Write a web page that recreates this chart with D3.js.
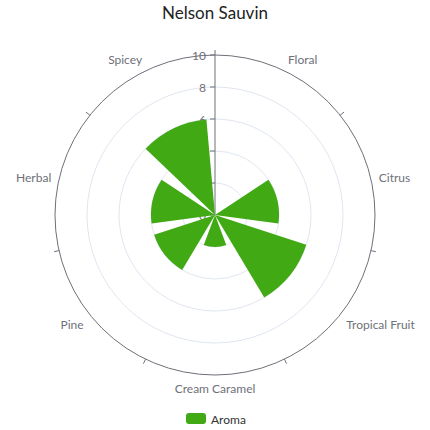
<!DOCTYPE html>
<html lang="en">
<head>
    <meta charset="UTF-8">
    <title>Nelson Sauvin</title>
    <script src="https://d3js.org/d3.v7.min.js"></script>
    <style>
        body { margin: 0; background: #fff; font-family: Lato, "Liberation Sans", sans-serif; }
    </style>
</head>
<body>
    <div id="chart"></div>
    <script>
        // chart data
        const categories = ["Floral", "Citrus", "Tropical Fruit", "Cream Caramel", "Pine", "Herbal", "Spicey"];
        const aroma = [0, 4, 6, 2, 4, 4, 6];
        const radiusTicks = [0, 2, 4, 6, 8, 10];
        const seriesName = "Aroma";
        const chartTitle = "Nelson Sauvin";

        const W = 430, H = 430;
        const cx = 215, cy = 215, R = 160;
        const axisColor = "#6e7079";
        const splitColor = "#e0e6f1";
        const barColor = "#40a914";

        const svg = d3.select("#chart").append("svg")
            .attr("width", W).attr("height", H);

        // title
        svg.append("text")
            .attr("x", W / 2).attr("y", 19)
            .attr("text-anchor", "middle")
            .style("font-size", "17px")
            .style("fill", "#222")
            .text(chartTitle);

        const g = svg.append("g").attr("transform", `translate(${cx},${cy})`);

        // scales
        const angle = d3.scaleBand().domain(categories).range([0, 2 * Math.PI]).paddingInner(0.2).paddingOuter(0.1);
        const angleFull = d3.scaleBand().domain(categories).range([0, 2 * Math.PI]);
        const r = d3.scaleLinear().domain([0, 10]).range([0, R]);

        // split circles
        g.selectAll(".split")
            .data(radiusTicks.filter(d => d > 0 && d < 10))
            .enter().append("circle")
            .attr("r", d => r(d))
            .attr("fill", "none")
            .attr("stroke", splitColor);

        // angle axis line
        g.append("circle").attr("r", r(10)).attr("fill", "none").attr("stroke", axisColor);

        // angle axis ticks at category boundaries
        g.selectAll(".atick")
            .data(categories)
            .enter().append("line")
            .attr("x1", d => Math.sin(angleFull(d)) * R)
            .attr("y1", d => -Math.cos(angleFull(d)) * R)
            .attr("x2", d => Math.sin(angleFull(d)) * (R + 5))
            .attr("y2", d => -Math.cos(angleFull(d)) * (R + 5))
            .attr("stroke", axisColor);

        // angle axis labels
        g.selectAll(".alabel")
            .data(categories)
            .enter().append("text")
            .each(function(d) {
                const a = angleFull(d) + angleFull.bandwidth() / 2;
                const lr = R + 8;
                const x = Math.sin(a) * lr, y = -Math.cos(a) * lr;
                const anchor = Math.abs(x) / lr < 0.3 ? "middle" : (x > 0 ? "start" : "end");
                const base = Math.abs(y) / lr < 0.3 ? "central" : (y > 0 ? "hanging" : "auto");
                d3.select(this)
                    .attr("x", x).attr("y", y)
                    .attr("text-anchor", anchor)
                    .attr("dominant-baseline", base);
            })
            .style("font-size", "12px")
            .style("fill", axisColor)
            .text(d => d);

        // radius axis
        g.append("line")
            .attr("x1", 0).attr("y1", 0)
            .attr("x2", 0).attr("y2", -r(10))
            .attr("stroke", axisColor);

        g.selectAll(".rtick")
            .data(radiusTicks)
            .enter().append("line")
            .attr("x1", -5).attr("x2", 0)
            .attr("y1", d => -r(d)).attr("y2", d => -r(d))
            .attr("stroke", axisColor);

        g.selectAll(".rlabel")
            .data(radiusTicks)
            .enter().append("text")
            .attr("x", -9)
            .attr("y", d => -r(d))
            .attr("text-anchor", "end")
            .attr("dominant-baseline", "central")
            .style("font-size", "12px")
            .style("fill", axisColor)
            .text(d => d);

        // bars
        const arc = d3.arc();
        g.selectAll(".bar")
            .data(categories.map((c, i) => ({ c, v: aroma[i] })))
            .enter().append("path")
            .attr("d", d => arc({
                innerRadius: 0,
                outerRadius: r(d.v),
                startAngle: angle(d.c),
                endAngle: angle(d.c) + angle.bandwidth()
            }))
            .attr("fill", barColor);

        // legend
        const lg = svg.append("g").attr("transform", "translate(186,413)");
        lg.append("rect").attr("width", 20).attr("height", 11).attr("rx", 3).attr("fill", barColor);
        lg.append("text")
            .attr("x", 25).attr("y", 6)
            .attr("dominant-baseline", "central")
            .style("font-size", "12px")
            .style("fill", "#333")
            .text(seriesName);
    </script>
</body>
</html>
